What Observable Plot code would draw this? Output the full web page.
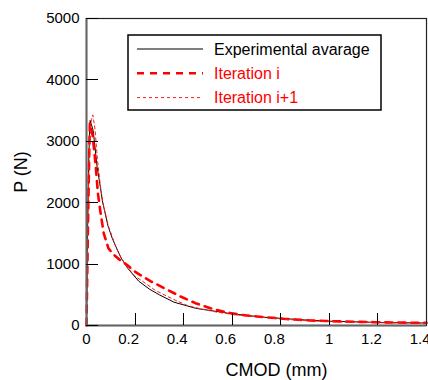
<!DOCTYPE html>
<html>
<head>
<meta charset="utf-8">
<script src="https://cdn.jsdelivr.net/npm/d3@7"></script>
<script src="https://cdn.jsdelivr.net/npm/@observablehq/plot@0.6"></script>
<style>
  html, body { margin: 0; padding: 0; background: #fff; }
  #chart svg { display: block; font-family: "Liberation Sans", Arial, Helvetica, sans-serif; }
</style>
</head>
<body>
<div id="chart"></div>
<script>
// ---- Data ----
const expCmod = [0, 0.002, 0.005, 0.009, 0.012, 0.015, 0.0276, 0.044, 0.058, 0.065, 0.088, 0.105, 0.122, 0.143, 0.17, 0.215, 0.26, 0.3, 0.36, 0.45, 0.6, 0.73, 0.9, 1.0, 1.2, 1.4];
const expP    = [0, 700, 1700, 2600, 3100, 3340, 3175, 2575, 2233, 2038, 1630, 1430, 1276, 1097, 930, 722, 590, 500, 380, 280, 190, 135, 90, 70, 50, 40];

const itCmod = [0, 0.003, 0.006, 0.009, 0.012, 0.014, 0.025, 0.033, 0.04, 0.047, 0.057, 0.071, 0.09, 0.11, 0.14, 0.17, 0.202, 0.263, 0.325, 0.387, 0.449, 0.51, 0.572, 0.634, 0.703, 0.812, 0.922, 1.06, 1.183, 1.375, 1.4];
const itP    = [0, 800, 1600, 2300, 2950, 3290, 3100, 2800, 2500, 2150, 1860, 1500, 1260, 1160, 1060, 978, 869, 722, 598, 473, 364, 282, 217, 174, 147, 109, 82, 65, 54, 44, 43];

const it1Cmod = [0, 0.003, 0.006, 0.01, 0.015, 0.02, 0.026, 0.035, 0.045, 0.058, 0.07, 0.09, 0.12, 0.14, 0.17, 0.2, 0.222, 0.284, 0.353, 0.415, 0.469, 0.538, 0.6, 0.7, 0.8, 0.9, 1.0, 1.2, 1.4];
const it1P    = [0, 800, 1800, 2600, 3100, 3350, 3430, 3200, 2700, 2250, 1950, 1620, 1290, 1120, 940, 800, 745, 571, 435, 326, 272, 217, 180, 140, 105, 80, 62, 45, 36];

const xTicks = [0, 0.2, 0.4, 0.6, 0.8, 1, 1.2, 1.4];
const yTicks = [0, 1000, 2000, 3000, 4000, 5000];

const seriesNames = ["Experimental avarage", "Iteration i", "Iteration i+1"];
const xLabel = "CMOD (mm)";
const yLabel = "P (N)";

// ---- Build tables ----
const toRows = (xs, ys) => xs.map((x, i) => ({x, y: ys[i]}));
const expRows = toRows(expCmod, expP);
const itRows = toRows(itCmod, itP);
const it1Rows = toRows(it1Cmod, it1P);

const W = 428, H = 380;
const mL = 86, mR = 2, mT = 18, mB = 55;
const TICK = 12;

const chart = Plot.plot({
  width: W,
  height: H,
  marginLeft: mL,
  marginRight: mR,
  marginTop: mT,
  marginBottom: mB,
  style: {fontFamily: '"Liberation Sans", Arial, Helvetica, sans-serif', background: "#fff"},
  x: {domain: [0, 1.4]},
  y: {domain: [0, 5000]},
  marks: [
    // tick labels
    Plot.axisY({anchor: "left", ticks: yTicks, tickSize: 0, tickPadding: 7, fontSize: 15, label: null, tickFormat: d => String(d), fill: "#000"}),
    Plot.axisX({anchor: "bottom", ticks: xTicks, tickSize: 0, tickPadding: 0, fontSize: 15, label: null, tickFormat: d => String(d), textAnchor: "end", dx: 4, dy: 8, fill: "#000"}),
    // axis titles
    Plot.text([xLabel], {frameAnchor: "bottom", dx: 20, dy: 45, fontSize: 18, lineAnchor: "middle", fill: "#000"}),
    Plot.text([yLabel], {frameAnchor: "left", dx: -65, rotate: -90, fontSize: 18, lineAnchor: "middle", textAnchor: "middle", fill: "#000"}),
    // data
    Plot.line(expRows, {x: "x", y: "y", stroke: "#000", strokeWidth: 1}),
    Plot.line(itRows, {x: "x", y: "y", stroke: "#ff0000", strokeWidth: 2.6, strokeDasharray: "7,6"}),
    Plot.line(it1Rows, {x: "x", y: "y", stroke: "#ff1a1a", strokeWidth: 1, strokeDasharray: "3,3"}),
    // frame and axis spines
    Plot.frame({stroke: "#222", strokeWidth: 1.2}),
    Plot.ruleX([0], {stroke: "#666", strokeWidth: 2}),
    Plot.ruleY([0], {stroke: "#666", strokeWidth: 2})
  ]
});

document.getElementById("chart").appendChild(chart);

const svg = d3.select(chart);

// ---- Inward tick marks, placed with the chart's own scales ----
const xs = chart.scale("x"), ys = chart.scale("y");
const x0 = xs.apply(0), y0 = ys.apply(0);
const tg = svg.append("g").attr("class", "inward-ticks").attr("stroke", "#000").attr("stroke-width", 1);
yTicks.forEach(v => {
  const py = Math.round(ys.apply(v)) + 0.5;
  tg.append("line").attr("x1", x0).attr("x2", x0 + TICK).attr("y1", py).attr("y2", py);
});
xTicks.slice(1, -1).forEach(v => {
  const px = Math.round(xs.apply(v)) + 0.5;
  tg.append("line").attr("x1", px).attr("x2", px).attr("y1", y0).attr("y2", y0 - TICK);
});

// ---- Legend (inside the plot area, top) ----
const lg = svg.append("g").attr("class", "legend").attr("text-anchor", "start");
lg.append("rect")
  .attr("x", 128).attr("y", 35).attr("width", 253).attr("height", 75)
  .attr("fill", "#fff").attr("stroke", "#000").attr("stroke-width", 1.5);
const legendStyles = [
  {color: "#000", width: 1.2, dash: null, text: "#000"},
  {color: "#ff0000", width: 2.6, dash: "7,6", text: "#ff0000"},
  {color: "#ff1a1a", width: 1, dash: "3,3", text: "#ff0000"}
];
seriesNames.forEach((name, i) => {
  const cy = 49 + i * 24.3;
  const s = legendStyles[i];
  lg.append("line")
    .attr("x1", 137).attr("x2", 203).attr("y1", cy).attr("y2", cy)
    .attr("stroke", s.color).attr("stroke-width", s.width)
    .attr("stroke-dasharray", s.dash);
  lg.append("text")
    .attr("x", 214).attr("y", cy + 5.5)
    .attr("text-anchor", "start")
    .attr("font-size", 16)
    .attr("fill", s.text)
    .attr("font-family", '"Liberation Sans", Arial, Helvetica, sans-serif')
    .text(name);
});
</script>
</body>
</html>
